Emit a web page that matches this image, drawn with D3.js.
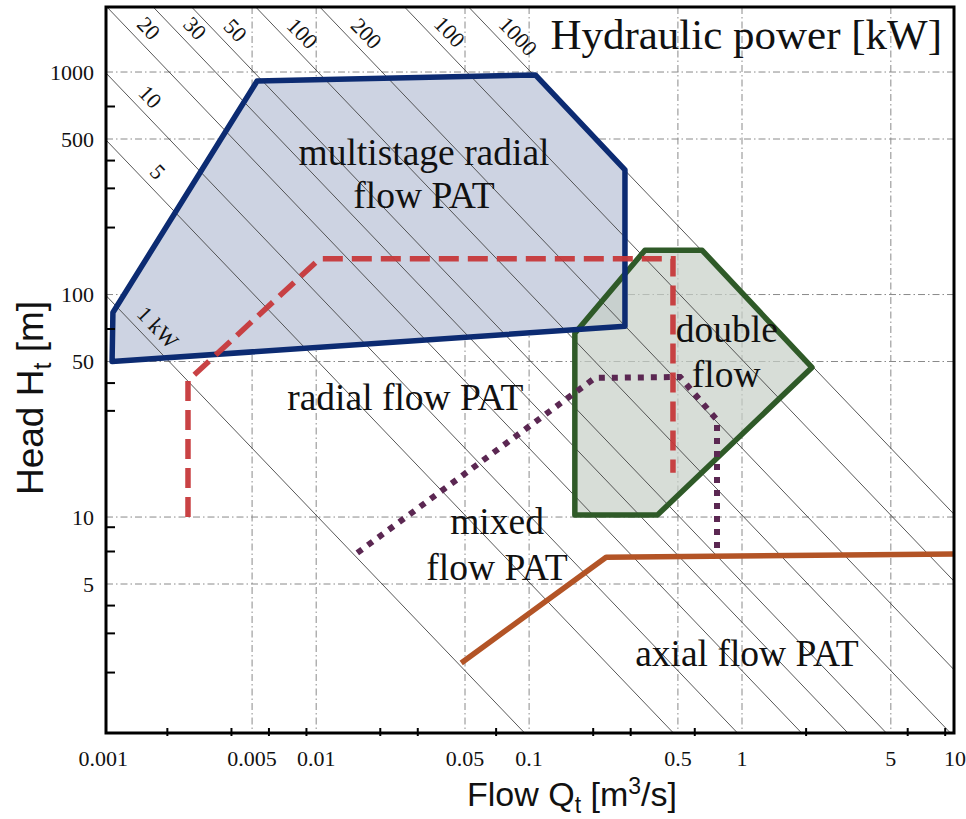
<!DOCTYPE html>
<html>
<head>
<meta charset="utf-8">
<script src="https://cdn.jsdelivr.net/npm/d3@7"></script>
<style>
  body { margin: 0; background: #fff; }
  svg { display: block; }
  .serif { font-family: "Liberation Serif", "Times New Roman", serif; fill: #111; }
  .sans { font-family: "Liberation Sans", Arial, sans-serif; fill: #111; }
</style>
</head>
<body>
<svg id="chart" width="966" height="819"></svg>
<script>
// axis ticks
const xTickVals = [0.001, 0.005, 0.01, 0.05, 0.1, 0.5, 1, 5, 10];
const xTickText = ["0.001", "0.005", "0.01", "0.05", "0.1", "0.5", "1", "5", "10"];
const xGridVals = [0.005, 0.01, 0.05, 0.1, 0.5, 1, 5];
const xMinor = [0.002, 0.004, 0.006, 0.009, 0.02, 0.03, 0.07, 0.2, 0.3, 0.6, 2, 6, 9];
const yTickVals = [1000, 500, 100, 50, 10, 5];
const yMinor = [2, 3, 4, 7, 9, 30, 40, 70, 200, 300, 400, 700];

// iso-power lines [kW] and the labels printed on them
const powerVals = [1, 5, 10, 20, 33, 50, 100, 200, 500, 1000];
const powerText = ["1 kW", "5", "10", "20", "30", "50", "100", "200", "100", "1000"];
const powerLabelH = [70, 350, 760, 1545, 1545, 1513, 1466, 1466, 1490, 1422];

// regions [Q m3/s, H m]
const multistage = [[0.00111, 83], [0.0011, 50], [0.282, 72], [0.282, 363], [0.107, 970], [0.00528, 911]];
const doubleFlow = [[0.35, 158], [0.65, 158], [2.13, 47], [0.40, 10.2], [0.164, 10.2], [0.164, 67]];
const radialLine = [[0.0025, 10], [0.0025, 41], [0.0104, 145], [0.474, 145], [0.474, 15.8]];
const mixedLine = [[0.0156, 6.9], [0.204, 42.2], [0.512, 42.6], [0.763, 27.3], [0.763, 6.6]];
const axialLine = [[0.048, 2.21], [0.23, 6.6], [9.9, 6.82]];

// region names, placed at [Q, H] of the text baseline centre
const regionLabels = [
  { text: "multistage radial", q: 0.0321, h: 382 },
  { text: "flow PAT", q: 0.0321, h: 245 },
  { text: "radial flow PAT", q: 0.0262, h: 30.3 },
  { text: "mixed", q: 0.0707, h: 8.39 },
  { text: "flow PAT", q: 0.0707, h: 5.21 },
  { text: "axial flow PAT", q: 1.055, h: 2.14 },
  { text: "double", q: 0.849, h: 61.2 },
  { text: "flow", q: 0.843, h: 38.4 }
];

const svg = d3.select("#chart");
const L = 106, R = 954, T = 7, B = 733;
const x = d3.scaleLog().domain([0.00103, 9.9]).range([L, R]);
const y = d3.scaleLog().domain([1.07, 1960]).range([B, T]);

svg.append("clipPath").attr("id", "plot")
  .append("rect").attr("x", L).attr("y", T).attr("width", R - L).attr("height", B - T);

const line = d3.line().x(d => x(d[0])).y(d => y(d[1]));
const plot = svg.append("g").attr("clip-path", "url(#plot)");

// grid
plot.selectAll(".gx").data(xGridVals).enter().append("line")
  .attr("x1", d => x(d)).attr("x2", d => x(d)).attr("y1", T).attr("y2", B)
  .attr("stroke", "#8a8a8a").attr("stroke-width", 1).attr("stroke-dasharray", "7,3,1.5,3");
plot.selectAll(".gy").data(yTickVals).enter().append("line")
  .attr("x1", L).attr("x2", R).attr("y1", d => y(d)).attr("y2", d => y(d))
  .attr("stroke", "#8a8a8a").attr("stroke-width", 1).attr("stroke-dasharray", "7,3,1.5,3");

// region fills
plot.append("path").attr("d", line(multistage) + "Z")
  .attr("fill", "#cdd3e2");
plot.append("path").attr("d", line(doubleFlow) + "Z")
  .attr("fill", "#c6cec6").attr("fill-opacity", 0.7);

// hydraulic power lines, P = 9.81 Q H
const [q0, q1] = x.domain();
plot.selectAll(".pw").data(powerVals).enter().append("line")
  .attr("x1", x(q0)).attr("y1", d => y(d / (9.81 * q0)))
  .attr("x2", x(q1)).attr("y2", d => y(d / (9.81 * q1)))
  .attr("stroke", "#444").attr("stroke-width", 0.9);

// outlines
plot.append("path").attr("d", line(doubleFlow) + "Z")
  .attr("fill", "none").attr("stroke", "#2f5a28").attr("stroke-width", 5.5).attr("stroke-linejoin", "round");
plot.append("path").attr("d", line(multistage) + "Z")
  .attr("fill", "none").attr("stroke", "#0c2b72").attr("stroke-width", 5.5).attr("stroke-linejoin", "round");
plot.append("path").attr("d", line(radialLine))
  .attr("fill", "none").attr("stroke", "#c6383a").attr("stroke-width", 5.5)
  .attr("stroke-dasharray", "20,9").attr("stroke-opacity", 0.95);
plot.append("path").attr("d", line(mixedLine))
  .attr("fill", "none").attr("stroke", "#5b2752").attr("stroke-width", 6)
  .attr("stroke-dasharray", "6,7");
plot.append("path").attr("d", line(axialLine))
  .attr("fill", "none").attr("stroke", "#b35426").attr("stroke-width", 5.5).attr("stroke-linejoin", "round");

// power labels
const ang = Math.atan2(y(1) - y(10), x(10) - x(1)) * 180 / Math.PI;
svg.selectAll(".pl").data(powerVals).enter().append("text")
  .attr("class", "serif")
  .attr("font-size", 22)
  .attr("text-anchor", "middle").attr("dominant-baseline", "middle")
  .attr("transform", (d, i) => {
    const h = powerLabelH[i];
    const px = x(d / (9.81 * h)) + 18, py = y(h);
    return `translate(${px},${py}) rotate(${ang})`;
  })
  .text((d, i) => powerText[i]);

// frame
svg.append("rect").attr("x", L).attr("y", T).attr("width", R - L).attr("height", B - T)
  .attr("fill", "none").attr("stroke", "#000").attr("stroke-width", 3);

// minor ticks
svg.selectAll(".mx").data(xMinor).enter().append("line")
  .attr("x1", d => x(d)).attr("x2", d => x(d)).attr("y1", B - 5).attr("y2", B + 3)
  .attr("stroke", "#000").attr("stroke-width", 2);
svg.selectAll(".my").data(yMinor).enter().append("line")
  .attr("x1", L).attr("x2", L + 9).attr("y1", d => y(d)).attr("y2", d => y(d))
  .attr("stroke", "#000").attr("stroke-width", 2);

// tick labels
svg.selectAll(".xl").data(xTickVals).enter().append("text")
  .attr("class", "serif").attr("font-size", 22).attr("text-anchor", "middle")
  .attr("x", d => x(d)).attr("y", 766)
  .text((d, i) => xTickText[i]);
svg.selectAll(".yl").data(yTickVals).enter().append("text")
  .attr("class", "serif").attr("font-size", 22).attr("text-anchor", "end")
  .attr("x", 94).attr("y", d => y(d)).attr("dy", "0.35em")
  .text(d => d);

// region labels
svg.selectAll(".rl").data(regionLabels).enter().append("text")
  .attr("class", "serif").attr("font-size", 37.5).attr("text-anchor", "middle")
  .attr("x", d => x(d.q)).attr("y", d => y(d.h))
  .text(d => d.text);

// title and axis titles
svg.append("text").attr("class", "serif").attr("font-size", 43)
  .attr("text-anchor", "end").attr("x", 942).attr("y", 49)
  .text("Hydraulic power [kW]");

const xt = svg.append("text").attr("class", "sans").attr("font-size", 34)
  .attr("text-anchor", "middle").attr("x", 572).attr("y", 806);
xt.append("tspan").text("Flow Q");
xt.append("tspan").attr("font-size", 23).attr("dy", 7).text("t");
xt.append("tspan").attr("dy", -7).text(" [m");
xt.append("tspan").attr("font-size", 23).attr("dy", -12).text("3");
xt.append("tspan").attr("dy", 12).text("/s]");

const yt = svg.append("text").attr("class", "sans").attr("font-size", 37)
  .attr("text-anchor", "middle").attr("transform", "translate(43,398) rotate(-90)");
yt.append("tspan").text("Head H");
yt.append("tspan").attr("font-size", 25).attr("dy", 8).text("t");
yt.append("tspan").attr("dy", -8).text(" [m]");
</script>
</body>
</html>
